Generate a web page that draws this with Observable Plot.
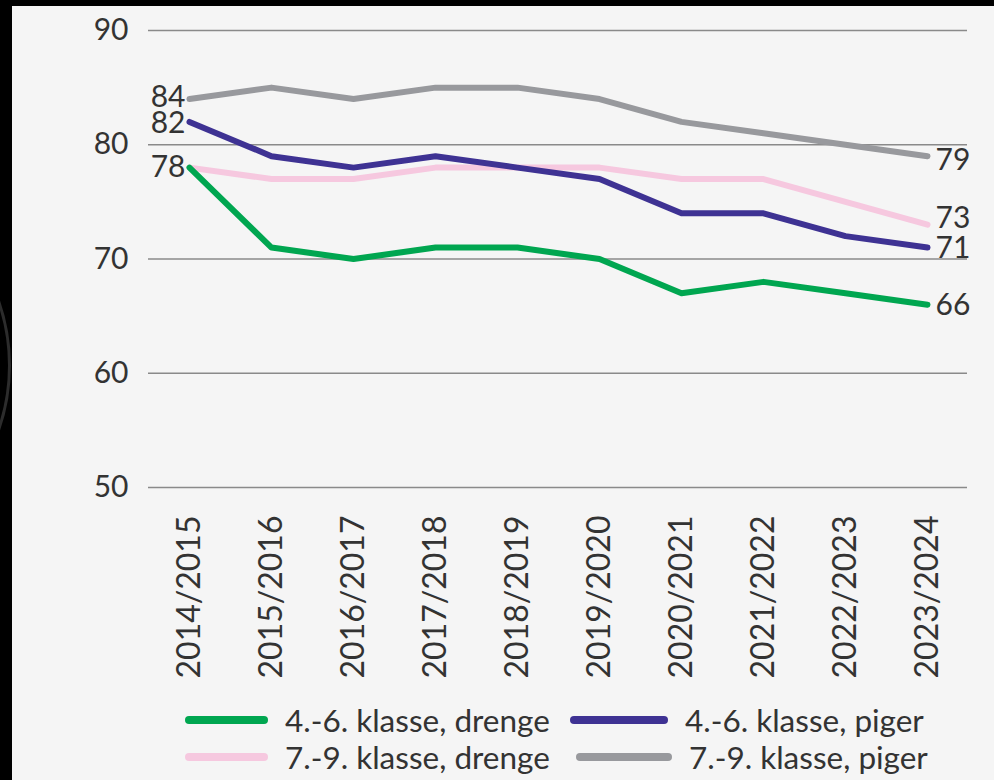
<!DOCTYPE html>
<html>
<head>
<meta charset="utf-8">
<script src="https://cdn.jsdelivr.net/npm/d3@7"></script>
<script src="https://cdn.jsdelivr.net/npm/@observablehq/plot@0.6"></script>
<style>
  html, body { margin: 0; padding: 0; background: #000; width: 994px; height: 780px; overflow: hidden; position: relative; font-family: Lato, sans-serif; }
  #arc { position: absolute; left: -384px; top: 168px; width: 395px; height: 395px; border: 3px solid #2c2c2c; border-radius: 50%; box-sizing: border-box; }
  #panel { position: absolute; left: 12px; top: 6px; right: 0; bottom: 0; background: #f5f5f5; }
  #chart { position: absolute; left: 0; top: 0; }
  #legend { position: absolute; left: 0; top: 700px; width: 994px; font-family: Lato, sans-serif; font-size: 31.5px; color: #333; }
  .item { position: absolute; display: flex; align-items: center; height: 36px; white-space: nowrap; }
  .sw { height: 8px; border-radius: 4px; margin-right: 17px; }
</style>
</head>
<body>
<div id="arc"></div>
<div id="panel"></div>
<div id="chart"></div>
<div id="legend"></div>
<script>
const seasons = ["2014/2015","2015/2016","2016/2017","2017/2018","2018/2019","2019/2020","2020/2021","2021/2022","2022/2023","2023/2024"];
const seriesNames = ["4.-6. klasse, drenge","4.-6. klasse, piger","7.-9. klasse, drenge","7.-9. klasse, piger"];
const seriesColors = ["#00a650","#3e3293","#f6c8df","#98999d"];
const drenge46 = [78,71,70,71,71,70,67,68,67,66];
const piger46  = [82,79,78,79,78,77,74,74,72,71];
const drenge79 = [78,77,77,78,78,78,77,77,75,73];
const piger79  = [84,85,84,85,85,84,82,81,80,79];
const yTicks = [50,60,70,80,90];

const valuesBySeries = [drenge46, piger46, drenge79, piger79];
const drawOrder = [2, 3, 1, 0];

const data = [];
for (const i of drawOrder) {
  valuesBySeries[i].forEach((v, j) => data.push({season: seasons[j], value: v, series: seriesNames[i]}));
}
const last = seasons.length - 1;
const startDy = {3: -2, 1: 1, 0: 0};
const startLabels = [3, 1, 0].map(i => ({season: seasons[0], value: valuesBySeries[i][0], series: seriesNames[i], dy: startDy[i]}));
const endDy = [1, 1, -6, 4];
const endLabels = [0,1,2,3].map(i => ({season: seasons[last], value: valuesBySeries[i][last], series: seriesNames[i], dy: endDy[i]}));

const chart = Plot.plot({
  width: 994,
  height: 700,
  marginLeft: 148,
  marginRight: 27,
  marginTop: 30,
  marginBottom: 213,
  style: {fontFamily: "Lato, sans-serif", fontSize: "30px", color: "#333", background: "transparent", overflow: "visible"},
  x: {type: "point", domain: seasons, padding: 0, insetLeft: 40, insetRight: 40, label: null},
  y: {domain: [50, 90], label: null},
  color: {domain: seriesNames, range: seriesColors},
  marks: [
    Plot.ruleY(yTicks, {stroke: "#8a8a8a", strokeWidth: 1.5}),
    Plot.axisY(yTicks, {tickSize: 0, tickPadding: 20, label: null, fontSize: 30}),
    Plot.axisX({tickSize: 0, tickRotate: -90, tickPadding: 28, label: null, fontSize: 32}),
    Plot.line(data, {x: "season", y: "value", z: "series", stroke: "series", strokeWidth: 6, strokeLinecap: "round", strokeLinejoin: "round"}),
    ...startLabels.map(d => Plot.text([d], {x: "season", y: "value", text: d => String(d.value), textAnchor: "end", dx: -4, dy: d.dy, fontSize: 30, fill: "#333"})),
    ...endLabels.map(d => Plot.text([d], {x: "season", y: "value", text: d => String(d.value), textAnchor: "start", dx: 8, dy: d.dy, fontSize: 30, fill: "#333"}))
  ]
});
document.getElementById("chart").appendChild(chart);

// Legend
const legendLayout = [
  {i: 0, left: 185, top: 2, sw: 83},
  {i: 1, left: 570, top: 2, sw: 98},
  {i: 2, left: 185, top: 39, sw: 83},
  {i: 3, left: 576, top: 39, sw: 96}
];
const legend = document.getElementById("legend");
for (const L of legendLayout) {
  const item = document.createElement("div");
  item.className = "item";
  item.style.left = L.left + "px";
  item.style.top = L.top + "px";
  const sw = document.createElement("span");
  sw.className = "sw";
  sw.style.width = L.sw + "px";
  sw.style.background = seriesColors[L.i];
  const t = document.createElement("span");
  t.textContent = seriesNames[L.i];
  item.appendChild(sw);
  item.appendChild(t);
  legend.appendChild(item);
}
</script>
</body>
</html>
